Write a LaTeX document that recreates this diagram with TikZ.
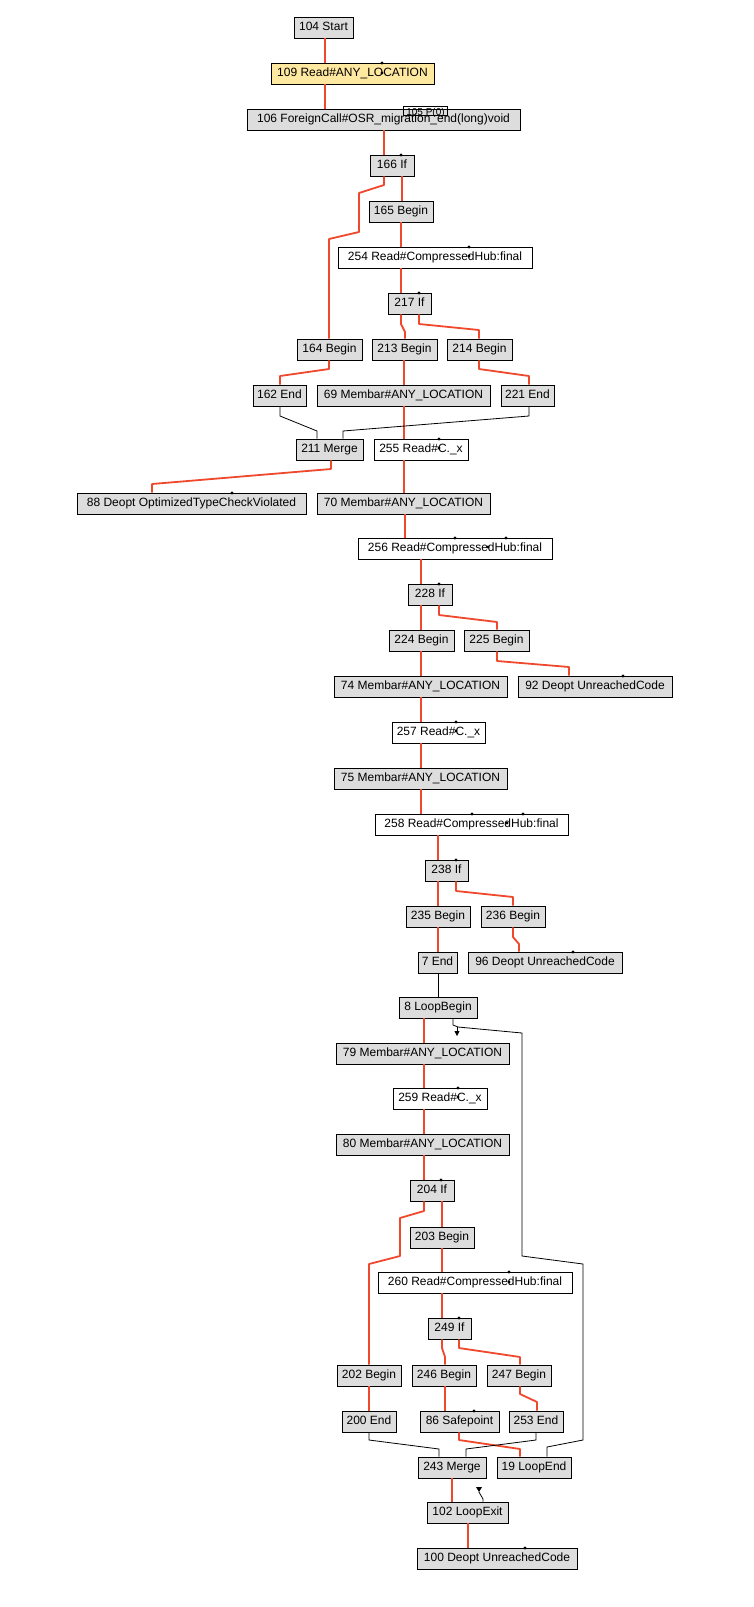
\documentclass[tikz,border=0pt]{standalone}
\usepackage{fontspec}
\setmainfont{Liberation Sans}
\usetikzlibrary{arrows.meta}
\definecolor{ctl}{RGB}{240,72,44}
\definecolor{nodegray}{RGB}{221,221,221}
\definecolor{nodeyel}{RGB}{255,232,160}
\tikzset{
 box/.style={draw=black, line width=0.8pt, inner sep=0pt, text height=8.7pt, text depth=3pt, font=\fontsize{12}{14}\selectfont},
 gbox/.style={box, fill=nodegray},
 wbox/.style={box, fill=white},
 ybox/.style={box, fill=nodeyel},
 ctledge/.style={draw=ctl, line width=1.8pt, line join=round},
 datedge/.style={draw=black, line width=0.8pt},
}
\newcommand\bx[7]{\node[#6, minimum width=#4-#2, minimum height=#5-#3] (#1) at ({(#2+#4)/2},{(#3+#5)/2}) {#7};}
\newcommand\dotm[2]{\fill (#1,#2) circle[radius=1.7pt];}
\begin{document}
\begin{tikzpicture}[x=1pt,y=-1pt]
\useasboundingbox[fill=white] (0,0) rectangle (753,1607);
% nodes
\bx{start}{294}{17}{353}{38}{gbox}{104 Start}
\bx{r109}{271}{63}{434}{84}{ybox}{109 Read\#ANY\_LOCATION}
\bx{fc106}{247}{109}{520}{130}{gbox}{106 ForeignCall\#OSR\_migration\_end(long)void}
\node[draw=black, line width=0.6pt, minimum width=44, minimum height=9, inner sep=0pt] (p105) at (425,110.5) {};
\node[inner sep=0pt, anchor=base, font=\fontsize{10}{12}\selectfont] (p105t) at (425.5,115) {105 P(0)};
\bx{if166}{370}{155}{414}{176}{gbox}{166 If}
\bx{b165}{369}{201}{433}{222}{gbox}{165 Begin}
\bx{r254}{338}{247}{532}{268}{wbox}{254 Read\#CompressedHub:final}
\bx{if217}{388}{293}{431}{314}{gbox}{217 If}
\bx{b164}{297}{339}{362}{360}{gbox}{164 Begin}
\bx{b213}{372}{339}{437}{360}{gbox}{213 Begin}
\bx{b214}{447}{339}{512}{360}{gbox}{214 Begin}
\bx{e162}{253}{385}{306}{406}{gbox}{162 End}
\bx{m69}{317}{385}{490}{406}{gbox}{69 Membar\#ANY\_LOCATION}
\bx{e221}{501}{385}{554}{406}{gbox}{221 End}
\bx{mg211}{296}{439}{363}{460}{gbox}{211 Merge}
\bx{r255}{374}{439}{468}{460}{wbox}{255 Read\#C.\_x}
\bx{d88}{77}{493}{306}{514}{gbox}{88 Deopt OptimizedTypeCheckViolated}
\bx{m70}{317}{493}{490}{514}{gbox}{70 Membar\#ANY\_LOCATION}
\bx{r256}{358}{538}{552}{559}{wbox}{256 Read\#CompressedHub:final}
\bx{if228}{408}{584}{452}{605}{gbox}{228 If}
\bx{b224}{389}{630}{454}{651}{gbox}{224 Begin}
\bx{b225}{464}{630}{529}{651}{gbox}{225 Begin}
\bx{m74}{334}{676}{507}{697}{gbox}{74 Membar\#ANY\_LOCATION}
\bx{d92}{518}{676}{672}{697}{gbox}{92 Deopt UnreachedCode}
\bx{r257}{392}{722}{485}{743}{wbox}{257 Read\#C.\_x}
\bx{m75}{334}{768}{507}{789}{gbox}{75 Membar\#ANY\_LOCATION}
\bx{r258}{375}{814}{568}{835}{wbox}{258 Read\#CompressedHub:final}
\bx{if238}{425}{860}{468}{881}{gbox}{238 If}
\bx{b235}{406}{906}{470}{927}{gbox}{235 Begin}
\bx{b236}{481}{906}{545}{927}{gbox}{236 Begin}
\bx{e7}{418}{952}{457}{973}{gbox}{7 End}
\bx{d96}{468}{952}{622}{973}{gbox}{96 Deopt UnreachedCode}
\bx{lb8}{399}{997}{477}{1018}{gbox}{8 LoopBegin}
\bx{m79}{336}{1043}{509}{1064}{gbox}{79 Membar\#ANY\_LOCATION}
\bx{r259}{393}{1088}{487}{1109}{wbox}{259 Read\#C.\_x}
\bx{m80}{336}{1134}{509}{1155}{gbox}{80 Membar\#ANY\_LOCATION}
\bx{if204}{410}{1180}{454}{1201}{gbox}{204 If}
\bx{b203}{410}{1227}{474}{1248}{gbox}{203 Begin}
\bx{r260}{378}{1272}{572}{1293}{wbox}{260 Read\#CompressedHub:final}
\bx{if249}{428}{1318}{471}{1339}{gbox}{249 If}
\bx{b202}{337}{1365}{401}{1386}{gbox}{202 Begin}
\bx{b246}{412}{1365}{476}{1386}{gbox}{246 Begin}
\bx{b247}{487}{1365}{551}{1386}{gbox}{247 Begin}
\bx{e200}{342}{1411}{396}{1432}{gbox}{200 End}
\bx{sp86}{420}{1411}{499}{1432}{gbox}{86 Safepoint}
\bx{e253}{509}{1411}{563}{1432}{gbox}{253 End}
\bx{mg243}{418}{1457}{486}{1478}{gbox}{243 Merge}
\bx{le19}{497}{1457}{571}{1478}{gbox}{19 LoopEnd}
\bx{lx102}{427}{1502}{508}{1523}{gbox}{102 LoopExit}
\bx{d100}{417}{1548}{577}{1569}{gbox}{100 Deopt UnreachedCode}
% control edges
\draw[ctledge] (start.south -| 325,0) -- (r109.north -| 325,0);
\draw[ctledge] (r109.south -| 325,0) -- (fc106.north -| 325,0);
\draw[ctledge] (fc106.south -| 384,0) -- (if166.north -| 384,0);
\draw[ctledge] (if166.south -| 384,0) -- (384,185) -- (359,193) -- (359,232) -- (329,239) -- (b164.north -| 329,0);
\draw[ctledge] (if166.south -| 402,0) -- (b165.north -| 402,0);
\draw[ctledge] (b165.south -| 401,0) -- (r254.north -| 401,0);
\draw[ctledge] (r254.south -| 401,0) -- (if217.north -| 401,0);
\draw[ctledge] (if217.south -| 401,0) -- (401,324) -- (405,332) -- (b213.north -| 405,0);
\draw[ctledge] (if217.south -| 419,0) -- (419,324) -- (479,330) -- (b214.north -| 479,0);
\draw[ctledge] (b164.south -| 329,0) -- (329,369) -- (280,376) -- (e162.north -| 280,0);
\draw[ctledge] (b214.south -| 479,0) -- (479,369) -- (529,376) -- (e221.north -| 529,0);
\draw[ctledge] (b213.south -| 404,0) -- (m69.north -| 404,0);
\draw[ctledge] (m69.south -| 404,0) -- (r255.north -| 404,0);
\draw[ctledge] (r255.south -| 404,0) -- (m70.north -| 404,0);
\draw[ctledge] (mg211.south -| 331,0) -- (331,469) -- (152,484) -- (d88.north -| 152,0);
\draw[ctledge] (m70.south -| 405,0) -- (r256.north -| 405,0);
\draw[ctledge] (r256.south -| 421,0) -- (if228.north -| 421,0);
\draw[ctledge] (if228.south -| 421,0) -- (b224.north -| 421,0);
\draw[ctledge] (if228.south -| 439,0) -- (439,615) -- (497,622) -- (b225.north -| 497,0);
\draw[ctledge] (b225.south -| 497,0) -- (497,661) -- (569,667) -- (d92.north -| 569,0);
\draw[ctledge] (b224.south -| 421,0) -- (m74.north -| 421,0);
\draw[ctledge] (m74.south -| 421,0) -- (r257.north -| 421,0);
\draw[ctledge] (r257.south -| 421,0) -- (m75.north -| 421,0);
\draw[ctledge] (m75.south -| 421,0) -- (r258.north -| 421,0);
\draw[ctledge] (r258.south -| 438,0) -- (if238.north -| 438,0);
\draw[ctledge] (if238.south -| 438,0) -- (b235.north -| 438,0);
\draw[ctledge] (if238.south -| 456,0) -- (456,891) -- (513,897) -- (b236.north -| 513,0);
\draw[ctledge] (b236.south -| 513,0) -- (513,937) -- (519,944) -- (d96.north -| 519,0);
\draw[ctledge] (b235.south -| 438,0) -- (e7.north -| 438,0);
\draw[ctledge] (lb8.south -| 424,0) -- (m79.north -| 424,0);
\draw[ctledge] (m79.south -| 424,0) -- (r259.north -| 424,0);
\draw[ctledge] (r259.south -| 424,0) -- (m80.north -| 424,0);
\draw[ctledge] (m80.south -| 424,0) -- (if204.north -| 424,0);
\draw[ctledge] (if204.south -| 424,0) -- (424,1211) -- (400,1218) -- (400,1256) -- (369,1264) -- (b202.north -| 369,0);
\draw[ctledge] (if204.south -| 442,0) -- (b203.north -| 442,0);
\draw[ctledge] (b203.south -| 442,0) -- (r260.north -| 442,0);
\draw[ctledge] (r260.south -| 442,0) -- (if249.north -| 442,0);
\draw[ctledge] (if249.south -| 442,0) -- (442,1348) -- (445,1357) -- (b246.north -| 445,0);
\draw[ctledge] (if249.south -| 459,0) -- (459,1348) -- (520,1357) -- (b247.north -| 520,0);
\draw[ctledge] (b202.south -| 369,0) -- (e200.north -| 369,0);
\draw[ctledge] (b246.south -| 445,0) -- (sp86.north -| 445,0);
\draw[ctledge] (b247.south -| 520,0) -- (520,1394) -- (537,1402) -- (e253.north -| 537,0);
\draw[ctledge] (sp86.south -| 459,0) -- (459,1440) -- (520,1449) -- (le19.north -| 520,0);
\draw[ctledge] (mg243.south -| 452,0) -- (lx102.north -| 452,0);
\draw[ctledge] (lx102.south -| 468,0) -- (d100.north -| 468,0);
% data / other edges
\draw[datedge] (e162.south -| 280,0) -- (280,416) -- (317,431) -- (mg211.north -| 317,0);
\draw[datedge] (e221.south -| 529,0) -- (529,416) -- (343,431) -- (mg211.north -| 343,0);
\draw[datedge] (e7.south -| 438,0) -- (lb8.north -| 438,0);
\draw[datedge] (e200.south -| 369,0) -- (369,1440) -- (439,1449) -- (mg243.north -| 439,0);
\draw[datedge] (e253.south -| 536,0) -- (536,1440) -- (466,1449) -- (mg243.north -| 466,0);
\draw[datedge] (le19.north -| 547,0) -- (547,1447) -- (583,1440) -- (583,1264) -- (522,1256) -- (522,1033) -- (458,1027) -- (453,1025) -- (lb8.south -| 453,0);
\coordinate (lbin) at (457,1027);
\draw[datedge, -{Triangle[length=5pt,width=5pt]}] (lbin) -- ++(0,9);
\coordinate (lxin) at (479,1492);
\draw[datedge] (lx102.north -| 483,0) -- (483,1499) -- (lxin);
\fill (476,1487) -- (482,1487) -- (lxin) -- cycle;
% dots
\dotm{382}{63}\dotm{382}{73}
\dotm{401}{155}
\dotm{469}{247}\dotm{469}{256}
\dotm{419}{293}
\dotm{439}{439}\dotm{439}{448}
\dotm{232}{493}
\dotm{455}{538}\dotm{506}{538}\dotm{488}{547}
\dotm{439}{584}
\dotm{623}{676}
\dotm{456}{722}\dotm{456}{731}
\dotm{472}{814}\dotm{523}{814}\dotm{507}{823}
\dotm{456}{860}
\dotm{573}{952}
\dotm{458}{1088}\dotm{458}{1097}
\dotm{441}{1180}
\dotm{509}{1272}\dotm{509}{1282}
\dotm{459}{1318}
\dotm{474}{1411}
\dotm{525}{1548}
\end{tikzpicture}
\end{document}
